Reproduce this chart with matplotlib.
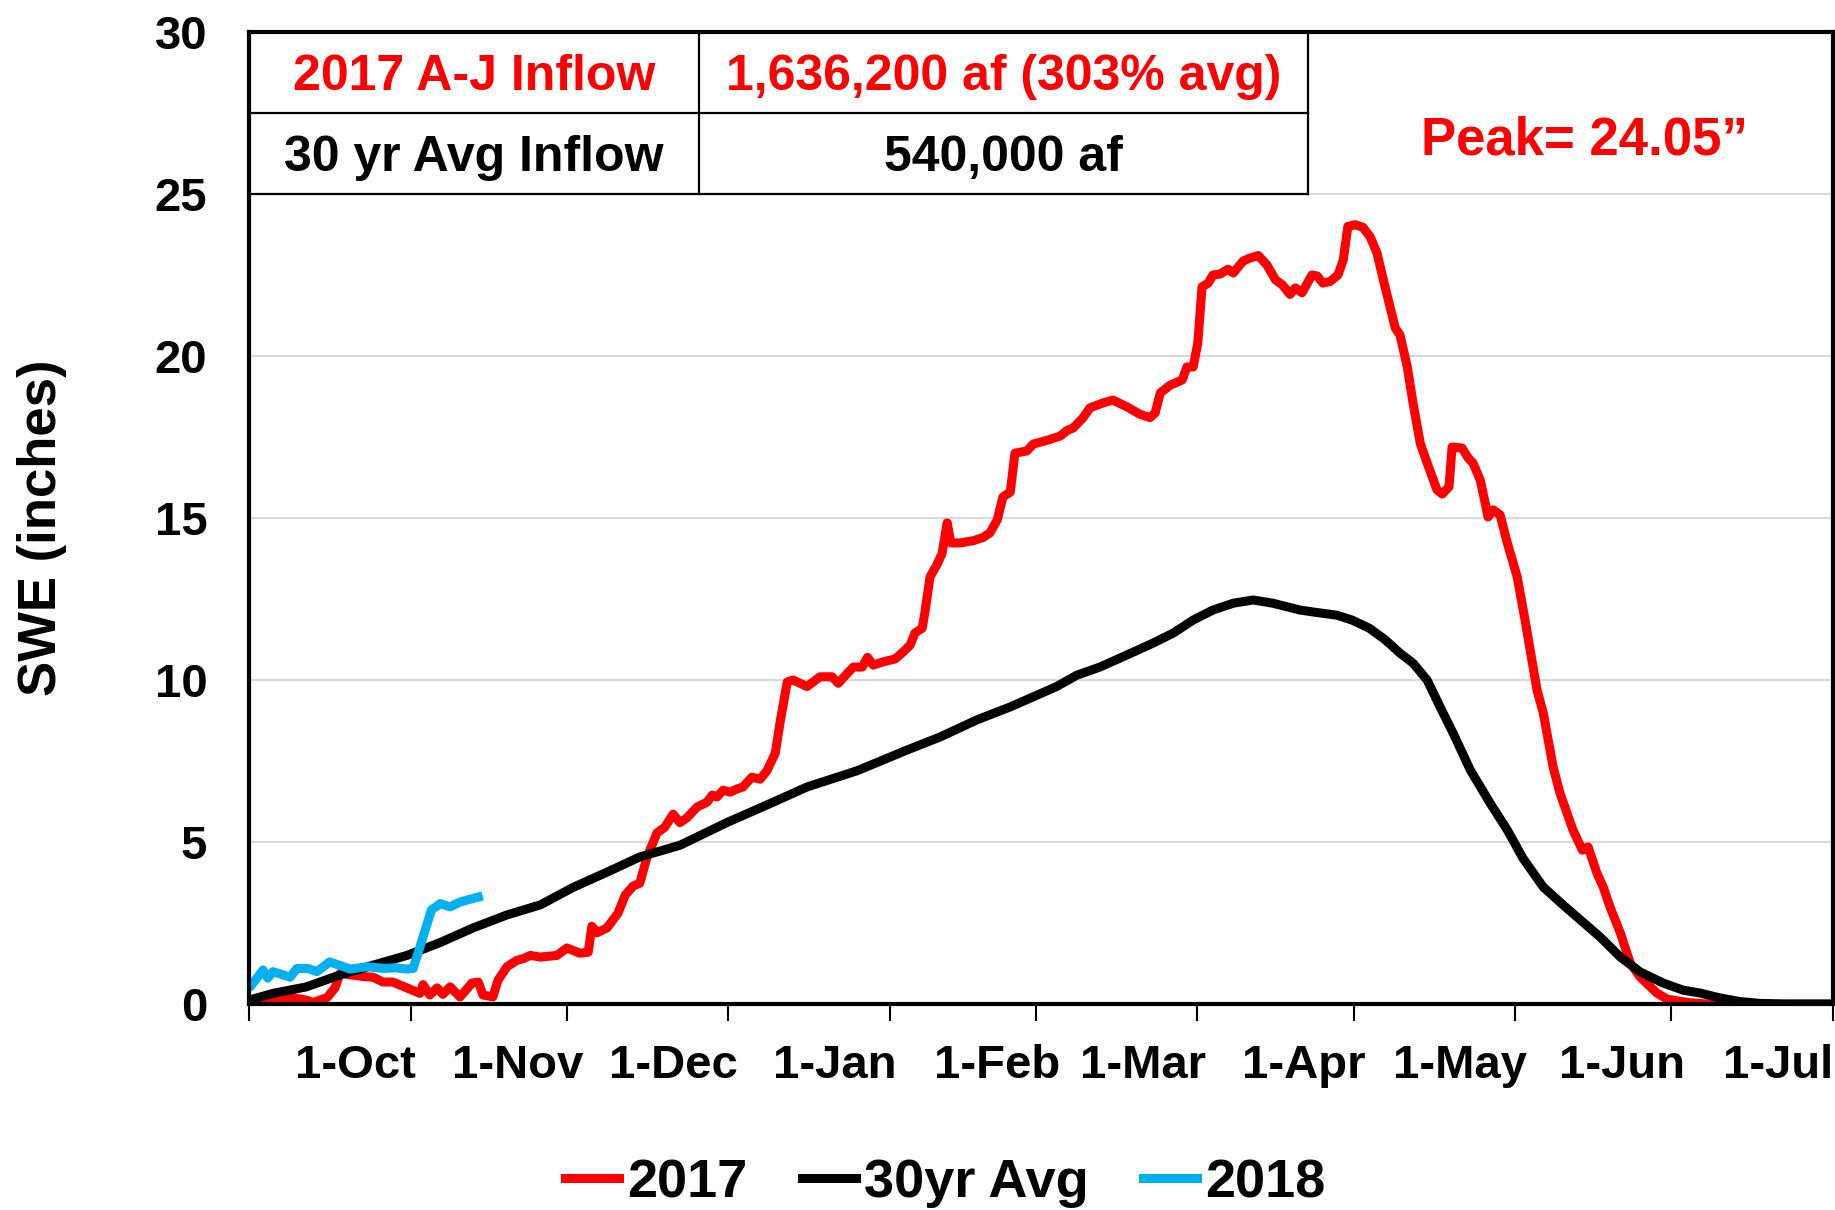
import numpy as np
import matplotlib
matplotlib.use("Agg")
import matplotlib.pyplot as plt
from matplotlib import font_manager

# days since 1-Oct-2016, SWE in inches
wy2017_day = [0, 3.5, 8.4, 11, 12.3, 15, 16.5, 17.5, 19.4, 21.9, 23.8, 25.7, 27.6, 30.3, 32.8, 33.4,
              34.7, 36.1, 37.2, 38.6, 40.5, 42.8, 44, 44.9, 46.8, 47.8, 49.5, 51.4, 52.6, 54, 55.9,
              59.1, 61, 63.5, 65.1, 65.8, 66.8, 68.7, 70.8, 72.2, 73.7, 75, 76.4, 78.3, 79.8, 81.4,
              82.7, 84, 86, 87.9, 88.9, 89.8, 91, 92.3, 93.7, 94.8, 96.5, 98.1, 99.4, 101, 101.9,
              103.3, 104.4, 107.1, 109.6, 111.9, 113.1, 114.8, 116, 117.7, 118.7, 119.8, 121.7, 124,
              125.5, 126.9, 127.8, 129.2, 129.7, 130.7, 132, 133, 134, 134.7, 136.5, 139, 140.9,
              142.2, 143.6, 144.7, 146.1, 147, 149.3, 150.5, 153.2, 155.7, 157, 158.2, 160.1, 161.4,
              163.9, 165.8, 168.5, 171, 172.9, 173.9, 174.9, 176.8, 179.1, 180, 181.2, 182.1, 182.9,
              184.1, 185, 186.4, 187.9, 188.9, 190.8, 192.1, 193.7, 195.4, 197, 198.3, 199.8, 200.8,
              202.1, 204, 205, 206.1, 207.5, 209, 210, 210.9, 212.3, 213.8, 215.2, 216.5, 217.7, 219,
              220, 220.9, 222.3, 223.4, 224.8, 226.1, 227.3, 228, 229, 230.3, 230.9, 232.8, 234,
              234.9, 236.3, 237.2, 237.8, 238.8, 240.1, 241.5, 243.4, 244.9, 247.2, 248.4, 250.3,
              251.6, 254.1, 255.9, 257, 258.7, 259.9, 261.2, 263.2, 265.1, 267, 270.2, 272.2, 276,
              280, 304]
wy2017_swe = [0.0, 0.12, 0.2, 0.12, 0.05, 0.2, 0.5, 0.95, 0.9, 0.85, 0.83, 0.68, 0.68, 0.5, 0.33, 0.6,
              0.28, 0.5, 0.3, 0.53, 0.22, 0.65, 0.68, 0.28, 0.22, 0.74, 1.15, 1.35, 1.4, 1.5, 1.45,
              1.5, 1.73, 1.57, 1.6, 2.4, 2.2, 2.35, 2.8, 3.36, 3.64, 3.73, 4.54, 5.28, 5.46, 5.86,
              5.6, 5.74, 6.08, 6.23, 6.45, 6.39, 6.6, 6.54, 6.64, 6.7, 7.0, 6.94, 7.2, 7.74, 8.67,
              9.94, 10.0, 9.8, 10.1, 10.1, 9.9, 10.2, 10.4, 10.4, 10.7, 10.46, 10.56, 10.65,
              10.86, 11.08, 11.45, 11.6, 12.07, 13.18, 13.55, 13.9, 14.85, 14.23, 14.23, 14.3, 14.4,
              14.54, 14.94, 15.65, 15.8, 17.0, 17.07, 17.28, 17.4, 17.53, 17.7, 17.78, 18.1, 18.4,
              18.55, 18.64, 18.43, 18.2, 18.1, 18.24, 18.86, 19.1, 19.26, 19.66, 19.66, 20.4, 22.13,
              22.25, 22.5, 22.53, 22.68, 22.56, 22.93, 23.02, 23.1, 22.8, 22.35, 22.2, 21.9, 22.1,
              21.95, 22.5, 22.47, 22.25, 22.3, 22.5, 22.96, 24.0, 24.05, 23.97, 23.67, 23.17, 22.35, 21.5,
              20.86, 20.65, 19.66, 18.55, 17.3, 16.7, 16.17, 15.87, 15.74, 15.96, 17.19, 17.16, 16.85,
              16.7, 16.17, 15.5, 15.03, 15.25, 15.1, 14.23, 13.18, 11.85, 9.69, 8.98, 7.31,
              6.51, 5.37, 4.75, 4.85, 4.04, 3.61, 3.0, 2.19, 1.26, 0.83, 0.34, 0.15, 0.05,
              0.0, 0.0]

avg_day = [0, 4.6, 11, 17.5, 23.8, 30.3, 36.7, 43, 49.5, 55.9, 62.2, 68.7, 75, 82.7, 91.7, 100.6,
           107.1, 116.7, 126.3, 132.6, 139.7, 146.1, 150.5, 155, 158.9, 163.3, 169.7, 173.5, 177.4,
           181.2, 185, 188.9, 192.7, 196.5, 201.7, 204.2, 208.8, 211.7, 215, 218, 220.9, 223.4,
           226.1, 228.6, 231.1, 234.4, 238.2, 241.5, 244.5, 248.4, 252.2, 256, 259.3, 263.2, 267,
           271.4, 275.2, 278.5, 282, 286, 290, 295, 304]
avg_swe = [0.12, 0.33, 0.53, 0.9, 1.2, 1.5, 1.9, 2.35, 2.75, 3.06, 3.6, 4.07, 4.54, 4.9, 5.6, 6.23,
           6.7, 7.2, 7.84, 8.24, 8.77, 9.17, 9.48, 9.8, 10.15, 10.4, 10.86, 11.14, 11.45,
           11.85, 12.16, 12.37, 12.47, 12.37, 12.16, 12.1, 12.0, 11.85, 11.6, 11.25, 10.83, 10.52,
           10.0, 9.17, 8.36, 7.22, 6.2, 5.37, 4.5, 3.61, 3.06, 2.53, 2.07, 1.45, 0.99,
           0.65, 0.43, 0.34, 0.2, 0.08, 0.02, 0.0, 0.0]

wy2018_day = [0.5, 2.7, 3.6, 4.6, 7.9, 9.2, 11.3, 13, 15.5, 19.4, 22.6, 26, 28, 30.3, 31.5, 32.8,
              35, 36.7, 38.6, 40.5, 44]
wy2018_swe = [0.59, 1.05, 0.8, 1.0, 0.83, 1.1, 1.1, 1.0, 1.3, 1.08, 1.15, 1.1, 1.12, 1.08, 1.1, 1.76,
              2.9, 3.1, 3.0, 3.15, 3.3]

month_labels = ['1-Oct', '1-Nov', '1-Dec', '1-Jan', '1-Feb', '1-Mar', '1-Apr', '1-May', '1-Jun', '1-Jul']

table_rows = [['2017 A-J Inflow', '1,636,200 af (303% avg)'],
              ['30 yr Avg Inflow', '540,000 af']]
table_colors = ['#ff0000', 'black']
peak_text = 'Peak= 24.05\u201d'

RED = '#ff0000'
BLUE = '#00b0f0'

plt.rcParams['font.family'] = ['Liberation Sans', 'DejaVu Sans']
plt.rcParams['font.weight'] = 'bold'
names = {f.name for f in font_manager.fontManager.ttflist}
narrow = 'Liberation Sans Narrow' if 'Liberation Sans Narrow' in names else 'Liberation Sans'

fig = plt.figure(figsize=(18.35, 12.10), dpi=100)
ax = fig.add_axes([0.1357, 0.1702, 0.8632, 0.8034])

ax.plot(wy2017_day, wy2017_swe, color=RED, lw=6.5, label='2017', solid_joinstyle='round')
ax.plot(avg_day, avg_swe, color='black', lw=6.5, label='30yr Avg', solid_joinstyle='round')
ax.plot(wy2018_day, wy2018_swe, color=BLUE, lw=6.5, label='2018', solid_joinstyle='round')

ax.set_xlim(0, 304)
ax.set_ylim(0, 30)

# month boundaries
starts = np.arange(np.datetime64('2016-10'), np.datetime64('2017-09'), dtype='datetime64[M]')
bounds = (starts.astype('datetime64[D]') - np.datetime64('2016-10-01')).astype(int)
ax.set_xticks(bounds)
ax.set_xticklabels([])
ax.set_xticks(bounds[:-1] + 20.5, minor=True)
ax.set_xticklabels(month_labels, minor=True)
ax.tick_params(axis='x', which='major', length=12, width=1.5, direction='out')
ax.tick_params(axis='x', which='minor', length=0, pad=29, labelsize=34)

ax.set_yticks(range(0, 31, 5))
ax.tick_params(axis='y', length=0, pad=30, labelsize=34)
ax.yaxis.grid(True, color='#d9d9d9', lw=1.5)
ax.set_axisbelow(True)

for s in ax.spines.values():
    s.set_linewidth(3)
    s.set_color('black')

ax.text(-0.131, 0.49, 'SWE (inches)', transform=ax.transAxes, rotation=90,
        ha='center', va='center', fontsize=38, fontweight='bold')

# inflow table in the top left corner
col_x = [0, 0.284, 0.6686]
row_y = [1.0, 0.9167, 0.8333]
kw = dict(transform=ax.transAxes, color='black', lw=1.6, clip_on=False)
ax.plot([0, col_x[2]], [row_y[1]] * 2, **kw)
ax.plot([0, col_x[2]], [row_y[2]] * 2, **kw)
ax.plot([col_x[1]] * 2, [row_y[2], 1], **kw)
ax.plot([col_x[2]] * 2, [row_y[2], 1], **kw)
for i, row in enumerate(table_rows):
    yc = (row_y[i] + row_y[i + 1]) / 2 - 0.005
    for j, txt in enumerate(row):
        xc = (col_x[j] + col_x[j + 1]) / 2
        ax.text(xc, yc, txt, transform=ax.transAxes, ha='center', va='center',
                fontsize=36, fontweight='bold', family=narrow, color=table_colors[i])

ax.text(0.843, 0.888, peak_text, transform=ax.transAxes, ha='center', va='center',
        fontsize=38, fontweight='bold', color=RED)

fig.legend(loc='center', bbox_to_anchor=(0.515, 0.022), ncol=3, frameon=False,
           fontsize=39, handlelength=1.0, handletextpad=0.15, columnspacing=1.0)

fig.savefig('out.png', dpi=100)
